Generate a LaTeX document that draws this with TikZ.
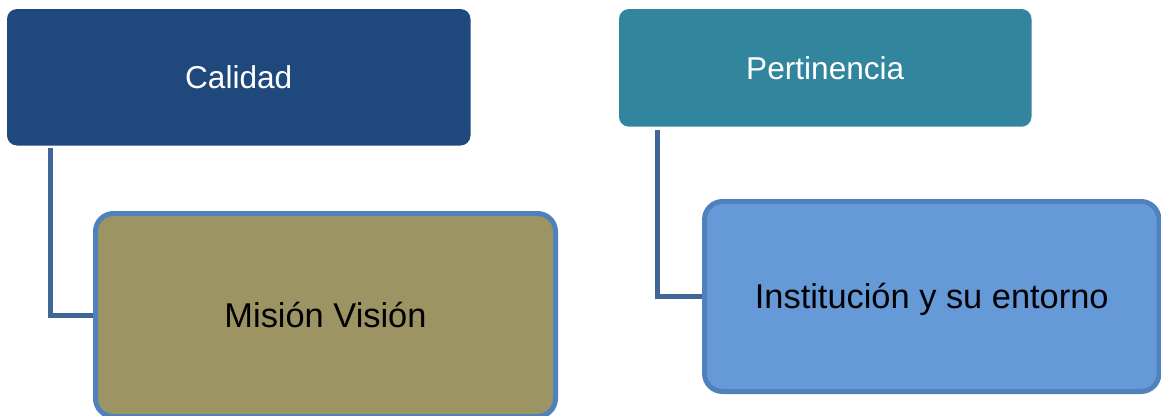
\documentclass[tikz,border=0pt]{standalone}
\usepackage{fontspec}
\setmainfont{Liberation Sans}

\definecolor{calidadblue}{RGB}{31,73,125}
\definecolor{pertinenciateal}{RGB}{49,133,156}
\definecolor{misionolive}{RGB}{157,148,99}
\definecolor{entornoblue}{RGB}{102,153,215}
\definecolor{childborder}{RGB}{79,129,189}
\definecolor{linkblue}{RGB}{64,102,152}

\begin{document}
\begin{tikzpicture}[x=1pt,y=-1pt,
    parent/.style={rectangle,rounded corners=10pt,inner sep=0pt,text=white,
        font=\fontsize{31.6}{38}\selectfont,text height=22.6pt,text depth=0pt},
    child/.style={rectangle,rounded corners=18pt,inner sep=0pt,draw=childborder,line width=5pt,
        font=\fontsize{34.4}{41}\selectfont,text height=24.6pt,text depth=0pt},
    link/.style={draw=linkblue,line width=5pt}]

    % fix the page size
    \useasboundingbox (0,0) rectangle (1161,415);

    % top boxes
    \node[parent,fill=calidadblue,minimum width=463.5pt,minimum height=136.5pt] (calidad) at (238.75,77.25) {Calidad};
    \node[parent,fill=pertinenciateal,minimum width=412.5pt,minimum height=117.7pt] (pertinencia) at (825.25,67.85) {Pertinencia};

    % lower boxes
    \node[child,fill=misionolive,minimum width=460pt,minimum height=203pt] (mision) at (325.5,315) {Misión Visión};
    \node[child,fill=entornoblue,minimum width=454.5pt,minimum height=190pt] (entorno) at (931.75,296.5) {Institución y su entorno};

    % connectors
    \draw[link] ([shift={(43.5,2.5)}]calidad.south west) |- (mision.west);
    \draw[link] ([shift={(38.5,3.3)}]pertinencia.south west) |- (entorno.west);

\end{tikzpicture}
\end{document}
